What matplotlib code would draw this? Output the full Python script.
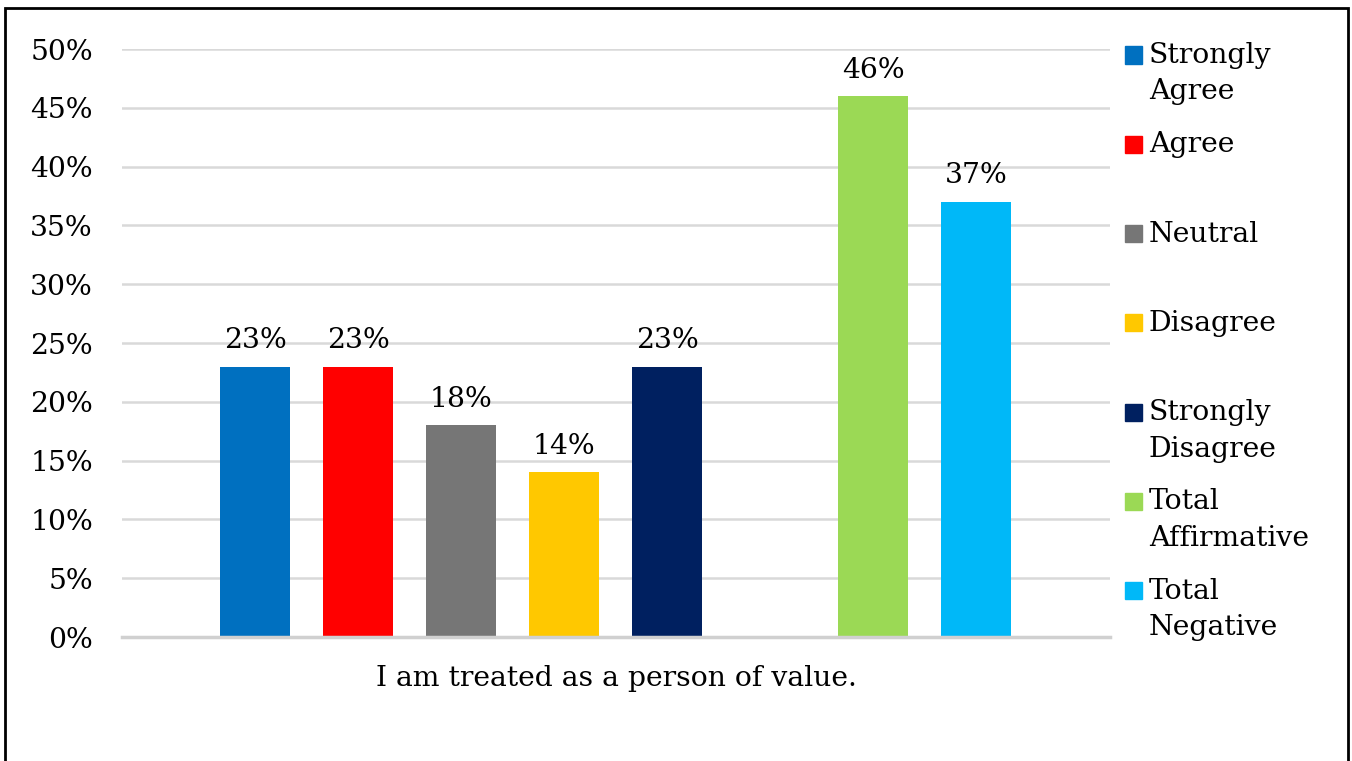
import matplotlib.pyplot as plt
from matplotlib.patches import Rectangle
from matplotlib.ticker import PercentFormatter

categories = ["Strongly\nAgree", "Agree", "Neutral", "Disagree", "Strongly\nDisagree",
              "Total\nAffirmative", "Total\nNegative"]
values = [0.23, 0.23, 0.18, 0.14, 0.23, 0.46, 0.37]
slots = [0, 1, 2, 3, 4, 6, 7]   # slot 5 is an empty series in the original
colors = ["#0070C0", "#FF0000", "#767676", "#FFC800", "#002060", "#9BD955", "#00B8F8"]
xlabel = "I am treated as a person of value."
yticks = [0, 0.05, 0.10, 0.15, 0.20, 0.25, 0.30, 0.35, 0.40, 0.45, 0.50]

plt.rcParams['font.family'] = ['DejaVu Serif']
fs = 20.3
W, H = 1352, 761
fig = plt.figure(figsize=(W / 100, H / 100), dpi=100)
ax = fig.add_axes([122 / W, 1 - 637 / H, (1110 - 122) / W, (637 - 49) / H])

for s, v, c in zip(slots, values, colors):
    ax.bar(s, v, width=0.68, color=c, zorder=3)
    ax.annotate(f"{v:.0%}", (s, v), xytext=(0, 9), textcoords="offset points",
                ha="center", va="bottom", fontsize=fs)

ax.set_xlim(-1.291, 8.30)
ax.set_ylim(0, 0.5)
ax.set_yticks(yticks)
ax.yaxis.set_major_formatter(PercentFormatter(1.0, decimals=0))
ax.tick_params(axis="y", length=0, pad=21, labelsize=fs)
ax.set_xticks([])
ax.grid(axis="y", color="#D9D9D9", linewidth=1.8, zorder=0)
for sp in ["top", "right", "left"]:
    ax.spines[sp].set_visible(False)
ax.spines["bottom"].set_color("#D0D0D0")
ax.spines["bottom"].set_linewidth(2.5)
ax.spines["bottom"].set_zorder(4)
ax.set_xlabel(xlabel, fontsize=fs, labelpad=20)

# manual legend: square lines up with first text line
for i, (lab, c) in enumerate(zip(categories, colors)):
    yc = 55 + i * 89.3
    fig.add_artist(Rectangle((1125 / W, 1 - (yc + 8.5) / H), 17 / W, 17 / H,
                             color=c, transform=fig.transFigure))
    fig.text(1149 / W, 1 - (yc - 13) / H, lab, fontsize=fs, va="top", ha="left",
             linespacing=1.45)

# outer frame
fig.add_artist(Rectangle((5 / W, -0.05), (1348 - 5) / W, 1.05 - 8 / H, fill=False,
                         edgecolor="black", linewidth=2, transform=fig.transFigure))

fig.savefig("out.png", dpi=100)
